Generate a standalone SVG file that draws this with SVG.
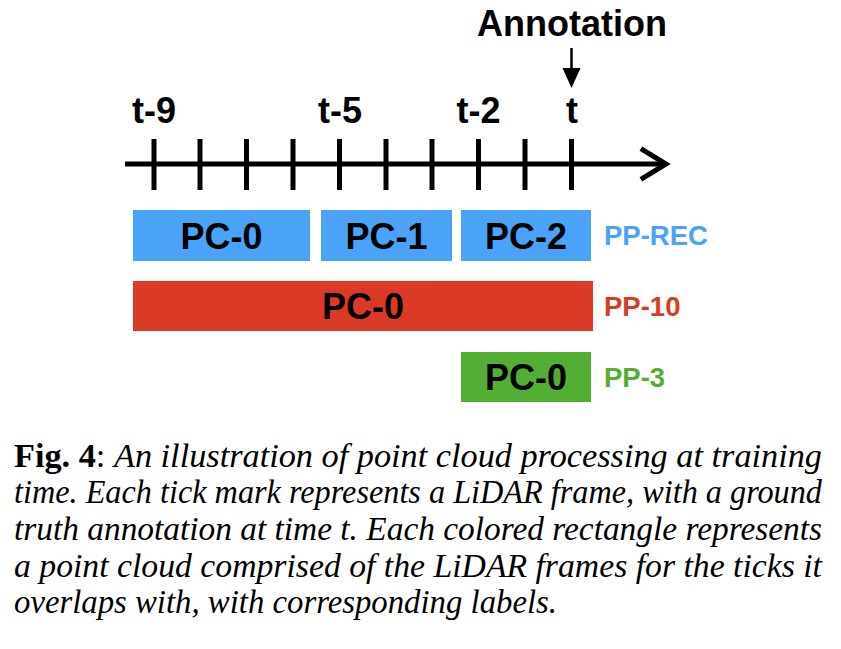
<svg xmlns="http://www.w3.org/2000/svg" width="841" height="649" viewBox="0 0 841 649">
<style>
.lbl{font-family:"Liberation Sans",Arial,sans-serif;font-weight:bold;fill:#000;text-anchor:middle}
.tick{stroke:#000;stroke-width:5}
.box{font-family:"Liberation Sans",Arial,sans-serif;font-weight:bold;font-size:36px;fill:#000;text-anchor:middle}
.pp{font-family:"Liberation Sans",Arial,sans-serif;font-weight:bold;font-size:27.5px}
.cap{font-family:"Liberation Serif","Times New Roman",serif;font-size:33px;fill:#000}
.it{font-style:italic}
</style>
<rect width="841" height="649" fill="#fff"/>
<g id="connectors">
  <line x1="125" y1="164" x2="666" y2="164" stroke="#000" stroke-width="5"/>
  <polyline points="643,150 666,164 643,178" fill="none" stroke="#000" stroke-width="5" stroke-linecap="square"/>
  <line class="tick" x1="154" y1="139" x2="154" y2="190"/>
  <line class="tick" x1="200" y1="139" x2="200" y2="190"/>
  <line class="tick" x1="246.5" y1="139" x2="246.5" y2="190"/>
  <line class="tick" x1="293" y1="139" x2="293" y2="190"/>
  <line class="tick" x1="339.5" y1="139" x2="339.5" y2="190"/>
  <line class="tick" x1="386" y1="139" x2="386" y2="190"/>
  <line class="tick" x1="432" y1="139" x2="432" y2="190"/>
  <line class="tick" x1="478.5" y1="139" x2="478.5" y2="190"/>
  <line class="tick" x1="525" y1="139" x2="525" y2="190"/>
  <line class="tick" x1="571.5" y1="139" x2="571.5" y2="190"/>
  <line x1="571.5" y1="48" x2="571.5" y2="72" stroke="#000" stroke-width="2.5"/>
  <polygon points="562.5,68 580.5,68 571.5,88" fill="#000"/>
</g>
<g id="annotation"><text class="lbl" x="572" y="36" font-size="36">Annotation</text></g>
<g id="tick-labels">
  <text class="lbl" x="154" y="123" font-size="36">t-9</text>
  <text class="lbl" x="340" y="123" font-size="36">t-5</text>
  <text class="lbl" x="478.5" y="123" font-size="36">t-2</text>
  <text class="lbl" x="572" y="123" font-size="36">t</text>
</g>
<g id="pp-rec">
  <g id="rec-pc0"><rect x="133" y="210" width="177" height="51" fill="#4aa3f8"/><text class="box" x="221.5" y="248.5">PC-0</text></g>
  <g id="rec-pc1"><rect x="321" y="210" width="131" height="51" fill="#4aa3f8"/><text class="box" x="386.5" y="248.5">PC-1</text></g>
  <g id="rec-pc2"><rect x="461" y="210" width="130" height="51" fill="#4aa3f8"/><text class="box" x="526" y="248.5">PC-2</text></g>
  <text class="pp" x="604" y="245" fill="#4aa3f8">PP-REC</text>
</g>
<g id="pp-10">
  <rect x="133" y="281" width="460" height="50" fill="#db3b26"/><text class="box" x="363" y="319">PC-0</text>
  <text class="pp" x="604" y="315.5" fill="#db3b26">PP-10</text>
</g>
<g id="pp-3">
  <rect x="461" y="352" width="130" height="50" fill="#54ae33"/><text class="box" x="526" y="390">PC-0</text>
  <text class="pp" x="604" y="386.5" fill="#54ae33">PP-3</text>
</g>
<g id="caption">
  <text class="cap" x="14" y="467" textLength="808" lengthAdjust="spacingAndGlyphs"><tspan font-weight="bold">Fig. 4</tspan>:  <tspan class="it">An illustration of point cloud processing at training</tspan></text>
  <text class="cap it" x="14" y="503" textLength="808" lengthAdjust="spacingAndGlyphs">time. Each tick mark represents a LiDAR frame, with a ground</text>
  <text class="cap it" x="14" y="540" textLength="808" lengthAdjust="spacingAndGlyphs">truth annotation at time t. Each colored rectangle represents</text>
  <text class="cap it" x="14" y="577" textLength="808" lengthAdjust="spacingAndGlyphs">a point cloud comprised of the LiDAR frames for the ticks it</text>
  <text class="cap it" x="14" y="613" textLength="543" lengthAdjust="spacingAndGlyphs">overlaps with, with corresponding labels.</text>
</g>
</svg>
